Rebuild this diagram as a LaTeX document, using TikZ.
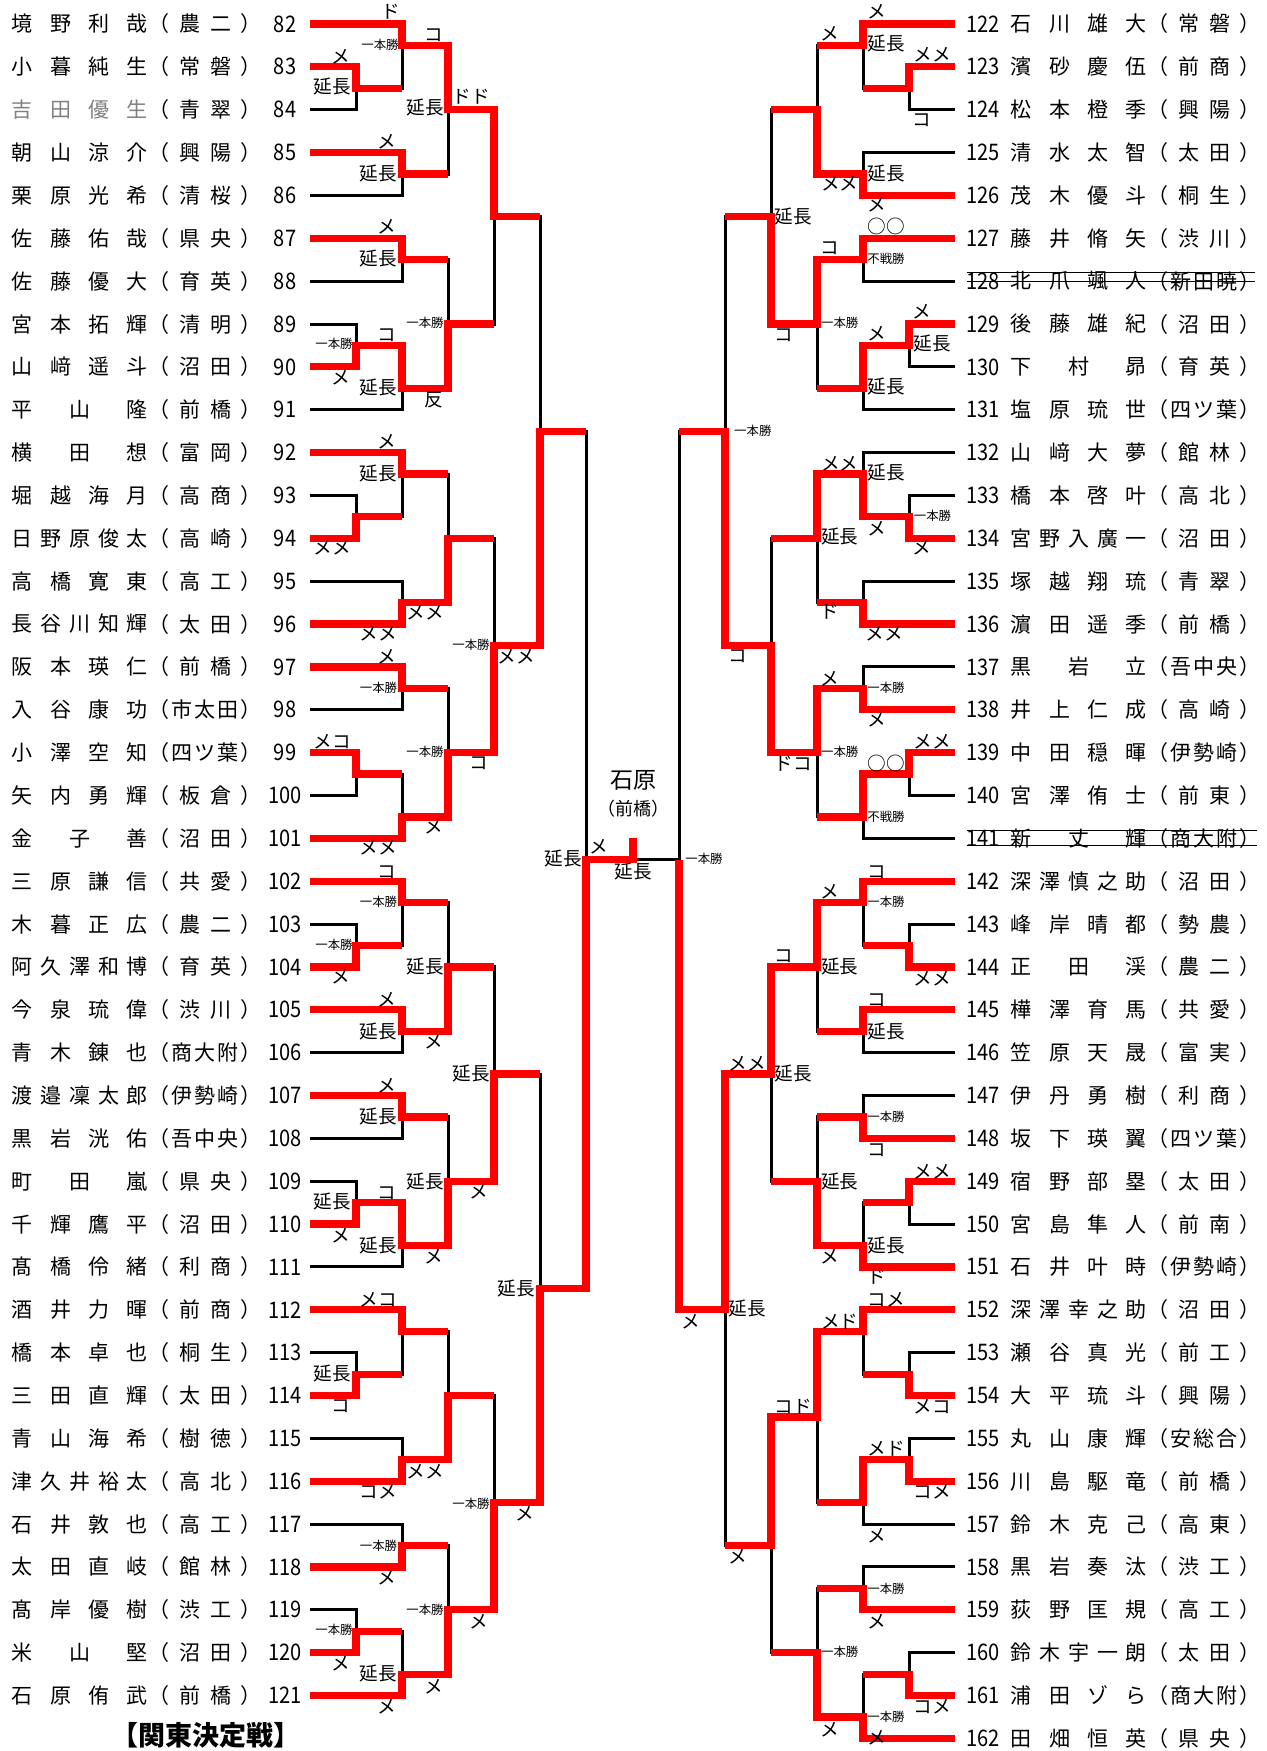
\documentclass[tikz,border=0pt]{standalone}
\usepackage{fontspec}
\setmainfont{Noto Sans CJK JP}
\newfontfamily\numfont[FakeStretch=0.88]{Noto Sans CJK JP}
\definecolor{winred}{RGB}{255,0,0}

% spread the characters of #1 over the width of the surrounding box
\def\spreadchars#1{\spreadstep#1\relax}
\def\spreadstep#1#2{#1\ifx\relax#2\expandafter\dropone\else\hfill\expandafter\spreadstep\fi#2}
\def\dropone#1{}

\tikzset{
  bk/.style={line width=1.5pt, draw=black},
  rd/.style={line width=3.6pt, draw=winred},
  pname/.style={anchor=west, inner sep=0pt, font=\fontsize{10.5}{12}\selectfont},
  pnum/.style={inner sep=0pt, font=\numfont\fontsize{11.4}{12}\selectfont},
  tech/.style={inner sep=0pt, font=\fontsize{9.3}{10}\selectfont},
  minor/.style={inner sep=0pt, font=\fontsize{6.2}{7}\selectfont},
  strike/.style={line width=0.6pt},
}

% bouts: level x / winner from x / winner row / loser from x / loser row / result row / next level x
\def\boutlist{
  356/310/1/310/2/1.5/402, 402/310/0/356/1.5/0.5/448, 402/310/3/310/4/3.5/448,
  448/402/0.5/402/3.5/2/494, 402/310/5/310/6/5.5/448, 356/310/8/310/7/7.5/402,
  402/356/7.5/310/9/8.5/448, 448/402/8.5/402/5.5/7/494, 494/448/2/448/7/4.5/540,
  356/310/12/310/11/11.5/402, 402/310/10/356/11.5/10.5/448, 402/310/14/310/13/13.5/448,
  448/402/13.5/402/10.5/12/494, 402/310/15/310/16/15.5/448, 356/310/17/310/18/17.5/402,
  402/310/19/356/17.5/18.5/448, 448/402/18.5/402/15.5/17/494, 494/448/17/448/12/14.5/540,
  540/494/14.5/494/4.5/9.5/586,
  356/310/22/310/21/21.5/402, 402/310/20/356/21.5/20.5/448, 402/310/23/310/24/23.5/448,
  448/402/23.5/402/20.5/22/494, 402/310/25/310/26/25.5/448, 356/310/28/310/27/27.5/402,
  402/356/27.5/310/29/28.5/448, 448/402/28.5/402/25.5/27/494, 494/448/27/448/22/24.5/540,
  356/310/32/310/31/31.5/402, 402/310/30/356/31.5/30.5/448, 402/310/34/310/33/33.5/448,
  448/402/33.5/402/30.5/32/494, 402/310/36/310/35/35.5/448, 356/310/38/310/37/37.5/402,
  402/310/39/356/37.5/38.5/448, 448/402/38.5/402/35.5/37/494, 494/448/37/448/32/34.5/540,
  540/494/34.5/494/24.5/29.5/586,
  909/955/1/955/2/1.5/863, 863/955/0/909/1.5/0.5/817, 863/955/4/955/3/3.5/817,
  817/863/3.5/863/0.5/2/771, 863/955/5/955/6/5.5/817, 909/955/7/955/8/7.5/863,
  863/909/7.5/955/9/8.5/817, 817/863/5.5/863/8.5/7/771, 771/817/7/817/2/4.5/725,
  909/955/12/955/11/11.5/863, 863/909/11.5/955/10/10.5/817, 863/955/14/955/13/13.5/817,
  817/863/10.5/863/13.5/12/771, 863/955/16/955/15/15.5/817, 909/955/17/955/18/17.5/863,
  863/909/17.5/955/19/18.5/817, 817/863/15.5/863/18.5/17/771, 771/817/17/817/12/14.5/725,
  725/771/14.5/771/4.5/9.5/679,
  909/955/22/955/21/21.5/863, 863/955/20/909/21.5/20.5/817, 863/955/23/955/24/23.5/817,
  817/863/20.5/863/23.5/22/771, 863/955/26/955/25/25.5/817, 909/955/27/955/28/27.5/863,
  863/955/29/909/27.5/28.5/817, 817/863/28.5/863/25.5/27/771, 771/817/22/817/27/24.5/725,
  909/955/32/955/31/31.5/863, 863/955/30/909/31.5/30.5/817, 909/955/34/955/33/33.5/863,
  863/909/33.5/955/35/34.5/817, 817/863/30.5/863/34.5/32.5/771, 863/955/37/955/36/36.5/817,
  909/955/39/955/38/38.5/863, 863/955/40/909/38.5/39.5/817, 817/863/39.5/863/36.5/38/771,
  771/817/32.5/817/38/35.5/725, 725/771/24.5/771/35.5/30/679}

\begin{document}
\begin{tikzpicture}[x=0.5pt, y=-21.43pt]
  \useasboundingbox (0,-0.56) rectangle (1266,40.294);

  % players, left
  \foreach \n/\nm/\sc [count=\k from 0] in {82/境野利哉/農二, 83/小暮純生/常磐, 84/吉田優生/青翠,
      85/朝山涼介/興陽, 86/栗原光希/清桜, 87/佐藤佑哉/県央, 88/佐藤優大/育英, 89/宮本拓輝/清明,
      90/山﨑遥斗/沼田, 91/平山隆/前橋, 92/横田想/富岡, 93/堀越海月/高商, 94/日野原俊太/高崎,
      95/高橋寛東/高工, 96/長谷川知輝/太田, 97/阪本瑛仁/前橋, 98/入谷康功/市太田, 99/小澤空知/四ツ葉,
      100/矢内勇輝/板倉, 101/金子善/沼田, 102/三原謙信/共愛, 103/木暮正広/農二, 104/阿久澤和博/育英,
      105/今泉琉偉/渋川, 106/青木錬也/商大附, 107/渡邉凜太郎/伊勢崎, 108/黒岩洸佑/吾中央,
      109/町田嵐/県央, 110/千輝鷹平/沼田, 111/髙橋伶緒/利商, 112/酒井力暉/前商, 113/橋本卓也/桐生,
      114/三田直輝/太田, 115/青山海希/樹徳, 116/津久井裕太/高北, 117/石井敦也/高工, 118/太田直岐/館林,
      119/髙岸優樹/渋工, 120/米山堅/沼田, 121/石原侑武/前橋} {
    \ifnum\n=84 \def\nc{black!50}\else\def\nc{black}\fi
    \node[pname, text=\nc] (name\n) at (11.5,\k) {\hbox to 68pt{\expandafter\spreadchars\expandafter{\nm}}};
    \node[pname] (sch\n) at (148.5,\k) {\hbox to 56.5pt{\expandafter\spreadchars\expandafter{\expandafter（\sc）}}};
    \node[pnum] (num\n) at (285,\k) {\n};
  }

  % players, right
  \foreach \n/\nm/\sc [count=\k from 0] in {122/石川雄大/常磐, 123/濱砂慶伍/前商, 124/松本橙季/興陽,
      125/清水太智/太田, 126/茂木優斗/桐生, 127/藤井脩矢/渋川, 128/北爪颯人/新田暁, 129/後藤雄紀/沼田,
      130/下村昴/育英, 131/塩原琉世/四ツ葉, 132/山﨑大夢/館林, 133/橋本啓叶/高北, 134/宮野入廣一/沼田,
      135/塚越翔琉/青翠, 136/濵田遥季/前橋, 137/黒岩立/吾中央, 138/井上仁成/高崎, 139/中田穏暉/伊勢崎,
      140/宮澤侑士/前東, 141/新丈輝/商大附, 142/深澤慎之助/沼田, 143/峰岸晴都/勢農, 144/正田渓/農二,
      145/樺澤育馬/共愛, 146/笠原天晟/富実, 147/伊丹勇樹/利商, 148/坂下瑛翼/四ツ葉, 149/宿野部塁/太田,
      150/宮島隼人/前南, 151/石井叶時/伊勢崎, 152/深澤幸之助/沼田, 153/瀬谷真光/前工, 154/大平琉斗/興陽,
      155/丸山康輝/安総合, 156/川島駆竜/前橋, 157/鈴木克己/高東, 158/黒岩奏汰/渋工, 159/荻野匡規/高工,
      160/鈴木宇一朗/太田, 161/浦田ゾら/商大附, 162/田畑恒英/県央} {
    \node[pnum] (num\n) at (983,\k) {\n};
    \node[pname] (name\n) at (1010.5,\k) {\hbox to 68pt{\expandafter\spreadchars\expandafter{\nm}}};
    \node[pname] (sch\n) at (1147.5,\k) {\hbox to 56.5pt{\expandafter\spreadchars\expandafter{\expandafter（\sc）}}};
  }

  % withdrawn entries
  \draw[strike] (966.7,5.80) -- (1255,5.80);
  \draw[strike] (966.7,6.01) -- (1255,6.01);
  \draw[strike] (966.7,18.82) -- (1256.7,18.82);
  \draw[strike] (966.7,19.16) -- (1256.7,19.16);

  % bracket: all lines black, then the winners in red
  \foreach \x/\xw/\yw/\xl/\yl/\yr/\xn in \boutlist
    \draw[bk] (\xw,\yw) -| (\x,\yl) -- (\xl,\yl);
  \draw[bk] (540,29.5) -| (586,9.5) -- (540,9.5);
  \draw[bk] (725,30) -| (679,9.5) -- (725,9.5);
  \draw[bk] (679,19.5) -- (633,19.5);
  \foreach \x/\xw/\yw/\xl/\yl/\yr/\xn in \boutlist
    \draw[rd] (\xw,\yw) -| (\x,\yr) -- (\xn,\yr);
  \draw[rd] (540,29.5) -| (586,19.5) -- (633,19.5) -- (633,19);
  \draw[rd] (725,30) -| (679,19.5);

  % champion
  \node[font=\fontsize{11.5}{12}\selectfont] (champ) at (633.3,17.64) {石原};
  \node[font=\fontsize{9}{10}\selectfont] (champsch) at (633.3,18.30) {（前橋）};

  % scores
  \foreach \x/\r/\t [count=\i] in {391/-0.29/ド, 434/0.26/コ, 341/0.77/メ, 332/1.47/延長, 425/1.96/延長,
      471/1.70/ドド, 387/2.75/メ, 378.5/3.48/延長, 387/4.74/メ, 378.5/5.46/延長, 387/7.26/コ, 341/8.26/メ,
      378.5/8.47/延長, 434/8.77/反, 387/9.75/メ, 378.5/10.48/延長, 332/12.23/メメ, 425/13.74/メメ,
      378.5/14.23/メメ, 516/14.76/メメ, 387/14.76/メ, 332/16.75/メコ, 478.5/17.25/コ, 434/18.73/メ,
      378.5/19.23/メメ, 387/19.78/コ, 425/21.99/延長, 341/22.23/メ, 387/22.77/メ, 378.5/23.51/延長,
      434/23.74/メ, 471/24.48/延長, 387/24.76/メ, 378.5/25.49/延長, 425/27.01/延長, 387/27.28/コ,
      332/27.48/延長, 478.5/27.24/メ, 341/28.26/メ, 378.5/28.49/延長, 434/28.76/メ, 516/29.5/延長,
      378.5/29.77/メコ, 332/31.48/延長, 341/32.26/コ, 425/33.78/メメ, 378.5/34.24/コメ, 525/34.75/メ,
      387/36.26/メ, 478.5/37.28/メ, 341/38.25/メ, 378.5/38.48/延長, 434/38.79/メ, 387/39.26/メ,
      563.3/19.47/延長, 598.3/19.19/メ, 633.3/19.78/延長,
      876.4/-0.29/メ, 830/0.22/メ, 886/0.45/延長, 932.5/0.72/メメ, 922/2.24/コ, 886/3.48/延長,
      839.7/3.72/メメ, 793.3/4.5/延長, 876.4/4.22/メ, 886/4.73/○○, 830/5.23/コ, 783.7/7.26/コ,
      922/6.71/メ, 876.4/7.22/メ, 932.5/7.45/延長, 886/8.46/延長, 839.7/10.25/メメ, 886/10.47/延長,
      839.7/11.96/延長, 876.4/11.77/メ, 922/12.23/メ, 830/13.71/ド, 884/14.23/メメ, 737.3/14.76/コ,
      830/15.27/メ, 876.4/16.24/メ, 793.3/17.25/ドコ, 932.5/16.75/メメ, 886/17.25/○○,
      876.4/19.78/コ, 830/20.24/メ, 783.7/21.76/コ, 839.7/21.99/延長, 932.5/22.27/メメ, 876.4/22.77/コ,
      886/23.51/延長, 747/24.25/メメ, 793.3/24.48/延長, 876.4/26.27/コ, 839.7/27.01/延長,
      932.5/26.78/メメ, 886/28.49/延長, 830/28.76/メ, 876.4/29.23/ド, 691/30.28/メ, 747/29.97/延長,
      886/29.77/コメ, 839.7/30.28/メド, 793.3/32.26/コド, 932.5/32.26/メコ, 886/33.25/メド,
      932.5/34.24/コメ, 876.4/35.28/メ, 737.3/35.76/メ, 876.4/37.28/メ, 932.5/39.26/コメ, 830/39.8/メ,
      876.4/39.99/メ}
    \node[tech] (sc\i) at (\x,\r) {\t};

  \foreach \x/\r/\t [count=\i] in {380/0.49/一本勝, 425/6.98/一本勝, 334/7.47/一本勝, 471/14.49/一本勝,
      378.5/15.49/一本勝, 425/16.98/一本勝, 378.5/20.48/一本勝, 334/21.49/一本勝, 471/34.52/一本勝,
      378.5/35.51/一本勝, 425/37.0/一本勝, 334/37.47/一本勝, 704/19.48/一本勝, 886/5.47/不戦勝,
      839.7/6.97/一本勝, 752.8/9.49/一本勝, 932.5/11.48/一本勝, 886/15.49/一本勝, 839.7/16.98/一本勝,
      886/18.49/不戦勝, 886/20.48/一本勝, 886/25.49/一本勝, 886/36.5/一本勝, 839.7/37.98/一本勝,
      886/39.49/一本勝}
    \node[minor] (win\i) at (\x,\r) {\t};

  \node[font=\fontsize{13.5}{14}\selectfont\bfseries] (title) at (206,39.93) {【関東決定戦】};
\end{tikzpicture}
\end{document}
